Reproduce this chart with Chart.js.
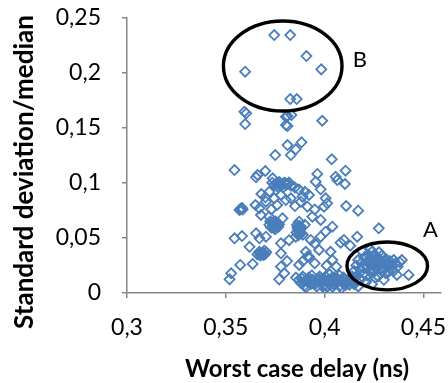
<!DOCTYPE html>
<html>
<head>
<meta charset="utf-8">
<script src="https://cdn.jsdelivr.net/npm/chart.js@4/dist/chart.umd.min.js"></script>
<style>
html,body{margin:0;padding:0;background:#fff;}
#wrap{width:448px;height:383px;position:relative;}
</style>
</head>
<body>
<div id="wrap"><canvas id="c" width="448" height="383"></canvas></div>
<script>
// Worst case delay (ns)
const delayX = [
0.3745,0.3826,0.3908,0.3983,0.3598,0.3826,0.3859,0.3594,0.3603,0.3598,0.3804,0.3832,0.3812,0.3804,0.3812,0.3988,0.3812,0.3883,0.3854,0.3829,0.3750,0.4036,
0.3544,0.3700,0.3661,0.3653,0.3963,0.3737,0.4056,0.4106,0.4064,0.4103,0.3955,0.3980,
0.3735,0.3755,0.3770,0.3785,0.3800,0.3815,0.3830,0.3760,0.3790,0.3745,0.3820,0.3850,0.3870,0.3900,0.3720,0.3680,
0.3578,0.3569,0.3585,0.3670,0.3703,0.3745,0.3779,0.3804,0.3829,0.3888,0.3921,0.3880,0.3913,0.4005,0.4013,0.3997,0.4109,0.4170,0.3678,0.3720,0.3787,0.3938,0.3980,0.3760,0.3730,0.3850,0.3950,0.3700,0.3650,
0.3737,0.3725,0.3745,0.3755,0.3765,0.3750,0.3730,0.3770,0.3720,
0.3871,0.3860,0.3880,0.3865,0.3875,0.3871,0.3854,0.3890,0.3900,
0.3544,0.3582,0.3653,0.3670,0.3703,0.3779,0.3930,0.3980,0.4005,0.4039,0.4081,0.4165,0.4274,0.4098,0.4240,0.3820,0.3950,0.3620,0.4130,
0.3686,0.3670,0.3660,0.3695,0.3675,0.3690,0.3705,
0.3779,0.3921,0.3905,0.3972,0.4030,0.4039,0.4059,0.3573,0.3636,0.3779,0.3796,0.3770,0.3527,0.3519,0.3871,0.3913,0.3890,0.3810,0.4010,0.3950,
0.3870,0.3880,0.3890,0.3900,0.3910,0.3920,0.3930,0.3940,0.3950,0.3960,0.3970,0.3980,0.3990,0.4000,0.4005,0.4010,0.4020,0.4030,0.4040,0.4050,0.4060,0.4070,0.4080,0.4090,0.4100,0.4110,0.4120,0.4130,0.4140,0.4150,0.4160,0.4170,
0.3895,0.3935,0.3975,0.4015,0.4045,0.4075,0.4105,0.4135,0.3925,0.3965,0.4025,0.4065,0.4095,0.4125,0.4155,0.3855,0.3905,0.4000,0.4085,
0.3915,0.3955,0.3995,0.4035,0.4055,0.4115,0.4145,0.4040,
0.4150,0.4160,0.4170,0.4180,0.4190,0.4200,0.4200,0.4210,0.4220,0.4220,0.4230,0.4240,0.4240,0.4250,0.4250,0.4260,0.4260,0.4270,0.4270,0.4280,0.4280,0.4290,0.4290,0.4300,0.4300,0.4310,0.4310,0.4320,0.4330,0.4330,0.4340,0.4350,0.4350,0.4360,0.4370,0.4380,0.4391,0.4366,0.4425,0.4324,0.4180,0.4210,0.4240,0.4190,0.4230,0.4160,0.4300,0.4275,0.4215,0.4255,
0.4195,0.4225,0.4245,0.4265,0.4285,0.4205,0.4235,0.4315,
0.3740,0.3748,0.3758,0.3742,0.3762,0.3735,0.3752,
0.3862,0.3870,0.3878,0.3858,0.3868,0.3882,0.3875,
0.3680,0.3688,0.3672,0.3698,
0.3775,0.3795,0.3780,0.3805,0.3765,
0.3575,0.3582,
0.3885,0.3945,0.4005,0.4065,0.4115,0.4035,0.3985,0.4095,
0.4245,0.4265,0.4285,0.4225,0.4305,0.4255
];
// Standard deviation / median
const stdMedY = [
0.2345,0.2345,0.2154,0.2033,0.2012,0.1763,0.1763,0.1648,0.1633,0.1536,0.1603,0.1618,0.1609,0.1527,0.1518,0.1566,0.1345,0.1370,0.1306,0.1254,0.1254,0.1215,
0.1118,0.1109,0.1073,0.1052,0.1082,0.1043,0.1057,0.1112,0.1027,0.0991,0.1012,0.0943,
0.1003,0.0995,0.1010,0.0985,0.1000,0.0990,0.0975,0.0970,0.0960,0.0985,0.1005,0.0960,0.0940,0.0920,0.0920,0.0900,
0.0770,0.0754,0.0760,0.0770,0.0830,0.0861,0.0891,0.0845,0.0861,0.0876,0.0891,0.0830,0.0785,0.0861,0.0815,0.0785,0.0791,0.0748,0.0709,0.0694,0.0679,0.0694,0.0664,0.0800,0.0760,0.0790,0.0760,0.0870,0.0800,
0.0634,0.0650,0.0610,0.0640,0.0600,0.0580,0.0595,0.0625,0.0620,
0.0648,0.0620,0.0600,0.0580,0.0560,0.0543,0.0512,0.0530,0.0620,
0.0497,0.0518,0.0543,0.0497,0.0512,0.0452,0.0482,0.0512,0.0557,0.0603,0.0457,0.0512,0.0588,0.0482,0.0375,0.0480,0.0450,0.0420,0.0430,
0.0361,0.0375,0.0350,0.0385,0.0340,0.0345,0.0370,
0.0361,0.0330,0.0375,0.0391,0.0375,0.0300,0.0239,0.0255,0.0264,0.0239,0.0179,0.0124,0.0179,0.0124,0.0255,0.0330,0.0290,0.0290,0.0250,0.0270,
0.0120,0.0090,0.0150,0.0070,0.0110,0.0140,0.0080,0.0120,0.0100,0.0060,0.0130,0.0090,0.0110,0.0070,0.0150,0.0100,0.0120,0.0080,0.0110,0.0140,0.0090,0.0120,0.0070,0.0110,0.0130,0.0090,0.0120,0.0100,0.0150,0.0080,0.0110,0.0060,
0.0100,0.0160,0.0150,0.0060,0.0080,0.0160,0.0070,0.0130,0.0095,0.0115,0.0170,0.0105,0.0085,0.0075,0.0140,0.0140,0.0050,0.0040,0.0045,
0.0125,0.0085,0.0065,0.0135,0.0125,0.0105,0.0095,0.0055,
0.0200,0.0250,0.0300,0.0220,0.0280,0.0320,0.0180,0.0240,0.0290,0.0350,0.0210,0.0260,0.0310,0.0190,0.0340,0.0230,0.0280,0.0320,0.0150,0.0250,0.0300,0.0200,0.0340,0.0270,0.0230,0.0310,0.0180,0.0260,0.0290,0.0220,0.0250,0.0300,0.0200,0.0270,0.0240,0.0280,0.0300,0.0164,0.0164,0.0194,0.0120,0.0100,0.0080,0.0380,0.0400,0.0150,0.0120,0.0370,0.0160,0.0140,
0.0235,0.0265,0.0215,0.0295,0.0225,0.0330,0.0185,0.0240,
0.0620,0.0605,0.0625,0.0590,0.0612,0.0640,0.0650,
0.0600,0.0570,0.0590,0.0550,0.0525,0.0545,0.0610,
0.0355,0.0368,0.0362,0.0352,
0.0998,0.1003,0.0978,0.0985,0.0990,
0.0762,0.0772,
0.0130,0.0090,0.0110,0.0130,0.0110,0.0095,0.0125,0.0140,
0.0285,0.0255,0.0275,0.0265,0.0290,0.0305
];
const xTickValues = [0.3, 0.35, 0.4, 0.45];
const xTickLabels = ['0,3', '0,35', '0,4', '0,45'];
const yTickValues = [0, 0.05, 0.1, 0.15, 0.2, 0.25];
const yTickLabels = ['0', '0,05', '0,1', '0,15', '0,2', '0,25'];
const groupLabels = ['A', 'B'];
const xTitle = 'Worst case delay (ns)';
const yTitle = 'Standard deviation/median';

// annotation ellipses (data coordinates)
const ellipseSpecs = [
  {cx: 0.4317, cy: 0.0246, rx: 0.0204, ry: 0.0218, lx: 0.4536, ly: 0.0575},
  {cx: 0.3788, cy: 0.2064, rx: 0.0300, ry: 0.0409, lx: 0.4178, ly: 0.2118}
];

const points = delayX.map((x, i) => ({x: x, y: stdMedY[i]}));
const FONT = 'Lato, "Liberation Sans", sans-serif';
const AXIS_COLOR = '#868686';

const ellipsePlugin = {
  id: 'ellipses',
  afterDatasetsDraw(chart) {
    const ctx = chart.ctx, xs = chart.scales.x, ys = chart.scales.y;
    ctx.save();
    ellipseSpecs.forEach((e, i) => {
      const cx = xs.getPixelForValue(e.cx), cy = ys.getPixelForValue(e.cy);
      const rx = Math.abs(xs.getPixelForValue(e.cx + e.rx) - cx);
      const ry = Math.abs(ys.getPixelForValue(e.cy + e.ry) - cy);
      ctx.beginPath();
      ctx.ellipse(cx, cy, rx, ry, 0, 0, Math.PI * 2);
      ctx.lineWidth = 3.4;
      ctx.strokeStyle = '#000';
      ctx.stroke();
      ctx.fillStyle = '#000';
      ctx.font = '22px ' + FONT;
      ctx.textAlign = 'center';
      ctx.textBaseline = 'middle';
      ctx.fillText(groupLabels[i], xs.getPixelForValue(e.lx), ys.getPixelForValue(e.ly));
    });
    ctx.restore();
  }
};

const titlePlugin = {
  id: 'axisTitles',
  afterDraw(chart) {
    const ctx = chart.ctx;
    ctx.save();
    ctx.fillStyle = '#000';
    ctx.textAlign = 'center';
    ctx.textBaseline = 'alphabetic';
    ctx.font = 'bold 24px ' + FONT;
    ctx.fillText(xTitle, 297, 377);
    ctx.translate(33, 172);
    ctx.rotate(-Math.PI / 2);
    ctx.font = 'bold 26px ' + FONT;
    ctx.fillText(yTitle, 0, 0);
    ctx.restore();
  }
};

new Chart(document.getElementById('c'), {
  type: 'scatter',
  data: {
    datasets: [{
      data: points,
      pointStyle: 'rectRot',
      pointRadius: 5,
      pointHoverRadius: 5,
      borderWidth: 1.8,
      borderColor: '#4a7ebb',
      backgroundColor: 'rgba(0,0,0,0)'
    }]
  },
  options: {
    responsive: false,
    animation: false,
    events: [],
    layout: {padding: {left: 0, right: 5, top: 18, bottom: 0}},
    plugins: {legend: {display: false}, tooltip: {enabled: false}},
    scales: {
      x: {
        type: 'linear',
        min: 0.3,
        max: 0.459,
        afterBuildTicks(s) { s.ticks = xTickValues.map(v => ({value: v})); },
        afterFit(s) { s.height = 90; s.paddingLeft = 0; s.paddingRight = 0; },
        ticks: {
          autoSkip: false,
          maxRotation: 0,
          padding: 16,
          color: '#000',
          font: {family: FONT, size: 23},
          callback: (v) => xTickLabels[xTickValues.indexOf(v)]
        },
        grid: {display: true, drawOnChartArea: false, drawTicks: true, tickLength: 5, color: AXIS_COLOR, lineWidth: 1.5},
        border: {display: true, color: AXIS_COLOR, width: 1.5},
        title: {display: false}
      },
      y: {
        type: 'linear',
        min: 0,
        max: 0.25,
        afterBuildTicks(s) { s.ticks = yTickValues.map(v => ({value: v})); },
        afterFit(s) { s.width = 127; s.paddingTop = 0; s.paddingBottom = 0; },
        ticks: {
          autoSkip: false,
          padding: 21,
          color: '#000',
          font: {family: FONT, size: 23},
          callback: (v) => yTickLabels[yTickValues.indexOf(v)]
        },
        grid: {display: true, drawOnChartArea: false, drawTicks: true, tickLength: 5, color: AXIS_COLOR, lineWidth: 1.5},
        border: {display: true, color: AXIS_COLOR, width: 1.5},
        title: {display: false}
      }
    }
  },
  plugins: [ellipsePlugin, titlePlugin]
});
</script>
</body>
</html>
